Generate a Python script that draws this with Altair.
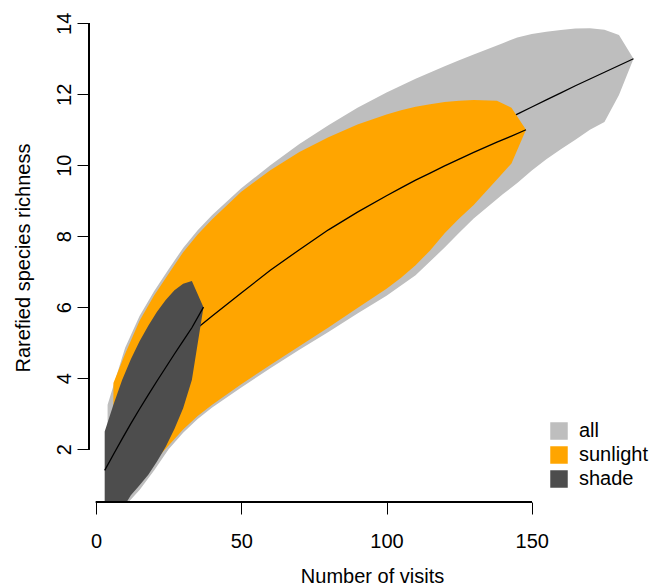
import altair as alt
import pandas as pd

# ---- data ----
groups = ["all", "sunlight", "shade"]
colors = ["#BEBEBE", "#FFA500", "#4D4D4D"]

all_x = [4, 10, 15, 20, 25, 30, 35, 40, 50, 60, 70, 80, 90, 100, 110, 120, 125, 130,
         140, 145, 150, 155, 160, 165, 170, 175, 180, 185]
all_lo = [-0.3, 0.4, 0.85, 1.4, 2.0, 2.46, 2.85, 3.17, 3.74, 4.28, 4.8, 5.3, 5.82, 6.32,
          6.9, 7.68, 8.1, 8.5, 9.18, 9.5, 9.85, 10.17, 10.45, 10.72, 11.0, 11.22, 11.98, 13.0]
all_mean = [1.55, 2.5, 3.2, 3.85, 4.42, 4.95, 5.42, 5.85, 6.62, 7.3, 7.95, 8.55, 9.1, 9.6,
            10.05, 10.45, 10.65, 10.85, 11.23, 11.44, 11.64, 11.84, 12.04, 12.24, 12.43,
            12.62, 12.81, 13.0]
all_hi = [3.25, 4.85, 5.75, 6.45, 7.07, 7.67, 8.17, 8.6, 9.35, 10.0, 10.6, 11.13, 11.62,
          12.05, 12.44, 12.79, 12.96, 13.12, 13.44, 13.6, 13.7, 13.76, 13.81, 13.85, 13.86,
          13.82, 13.67, 13.0]

sun_x = [6, 10, 15, 20, 25, 30, 35, 40, 50, 60, 70, 80, 90, 100, 105, 110, 115, 120, 125,
         130, 138, 143, 148]
sun_lo = [0.1, 0.55, 1.1, 1.65, 2.1, 2.55, 2.93, 3.25, 3.83, 4.37, 4.9, 5.43, 5.98, 6.52,
          6.83, 7.18, 7.6, 8.08, 8.5, 8.88, 9.6, 10.05, 11.0]
sun_mean = [1.95, 2.55, 3.3, 3.95, 4.5, 5.0, 5.42, 5.75, 6.4, 7.04, 7.62, 8.18, 8.68, 9.14,
            9.36, 9.58, 9.78, 9.98, 10.17, 10.36, 10.65, 10.82, 11.0]
sun_hi = [3.86, 4.68, 5.62, 6.33, 6.94, 7.55, 8.05, 8.48, 9.25, 9.86, 10.37, 10.79, 11.15,
          11.43, 11.55, 11.65, 11.72, 11.78, 11.82, 11.84, 11.82, 11.62, 11.0]

shade_x = [3, 6, 9, 12, 15, 18, 21, 24, 27, 30, 33, 37]
shade_lo = [-0.4, -0.1, 0.3, 0.7, 0.98, 1.28, 1.65, 2.07, 2.57, 3.15, 3.95, 6.0]
shade_mean = [1.40, 1.85, 2.29, 2.72, 3.13, 3.53, 3.92, 4.30, 4.68, 5.05, 5.42, 6.0]
shade_hi = [2.5, 3.25, 3.95, 4.53, 5.04, 5.48, 5.87, 6.2, 6.48, 6.66, 6.74, 6.0]

x_ticks = [0, 50, 100, 150]
y_ticks = [2, 4, 6, 8, 10, 12, 14]


def frame(name, xs, lo, mean, hi):
    return pd.DataFrame({"group": name, "visits": xs, "lo": lo, "mean": mean, "hi": hi})


df_all = frame("all", all_x, all_lo, all_mean, all_hi)
df_sun = frame("sunlight", sun_x, sun_lo, sun_mean, sun_hi)
df_shade = frame("shade", shade_x, shade_lo, shade_mean, shade_hi)

W, H = 566, 489
FONT = "Liberation Sans"

xscale = alt.Scale(domain=[-2.4, 192.4], nice=False, zero=False)
yscale = alt.Scale(domain=[0.51, 14.29], nice=False, zero=False)

xaxis = alt.Axis(values=x_ticks, domain=False, grid=False, tickSize=12, tickColor="black",
                 tickWidth=1, labelFontSize=20, labelFont=FONT, labelColor="black",
                 labelBaseline="alphabetic", labelPadding=33, labelFlush=False,
                 title="Number of visits", titleFontSize=20, titleFont=FONT,
                 titleFontWeight="normal", titleColor="black", titleX=W / 2, titleY=80,
                 titleBaseline="alphabetic", titleAlign="center")
yaxis = alt.Axis(values=y_ticks, domain=False, grid=False, tickSize=12, tickColor="black",
                 tickWidth=1, labelFontSize=20, labelFont=FONT, labelColor="black",
                 labelAngle=270, labelAlign="center", labelBaseline="alphabetic",
                 labelPadding=7, labelFlush=False,
                 title="Rarefied species richness", titleFontSize=20, titleFont=FONT,
                 titleFontWeight="normal", titleColor="black", titleAngle=270,
                 titleX=-60, titleY=H / 2, titleBaseline="alphabetic", titleAlign="center")

legend = alt.Legend(title=None, orient="none", legendX=460, legendY=408,
                    symbolType="square", symbolSize=306, symbolStrokeWidth=0,
                    symbolOpacity=1, labelFontSize=20, labelFont=FONT, labelColor="black",
                    labelOffset=10, rowPadding=4, padding=0)
color = alt.Color("group:N", scale=alt.Scale(domain=groups, range=colors), legend=legend)


def band(df):
    return alt.Chart(df).mark_area(clip=True, opacity=1, interpolate="linear").encode(
        x=alt.X("visits:Q", scale=xscale, axis=xaxis),
        y=alt.Y("lo:Q", scale=yscale, axis=yaxis),
        y2="hi:Q",
        color=color,
    )


def curve(df):
    return alt.Chart(df).mark_line(clip=True, color="black", strokeWidth=1.3).encode(
        x=alt.X("visits:Q", scale=xscale, axis=xaxis),
        y=alt.Y("mean:Q", scale=yscale, axis=yaxis),
    )


xline = alt.Chart(df_all).mark_rule(color="black", strokeWidth=1).encode(
    x=alt.datum(x_ticks[0]), x2=alt.datum(x_ticks[-1]), y=alt.value(H)
)
yline = alt.Chart(df_all).mark_rule(color="black", strokeWidth=1).encode(
    y=alt.datum(y_ticks[0]), y2=alt.datum(y_ticks[-1]), x=alt.value(0)
)

chart = alt.layer(
    band(df_all), curve(df_all),
    band(df_sun), curve(df_sun),
    band(df_shade), curve(df_shade),
    xline, yline,
).properties(
    width=W, height=H, autosize="none",
    padding={"left": 89, "top": 13, "right": 7, "bottom": 81},
    background="white",
).configure_view(stroke=None)

chart.save("out.html", embed_options={"renderer": "svg", "actions": False})
